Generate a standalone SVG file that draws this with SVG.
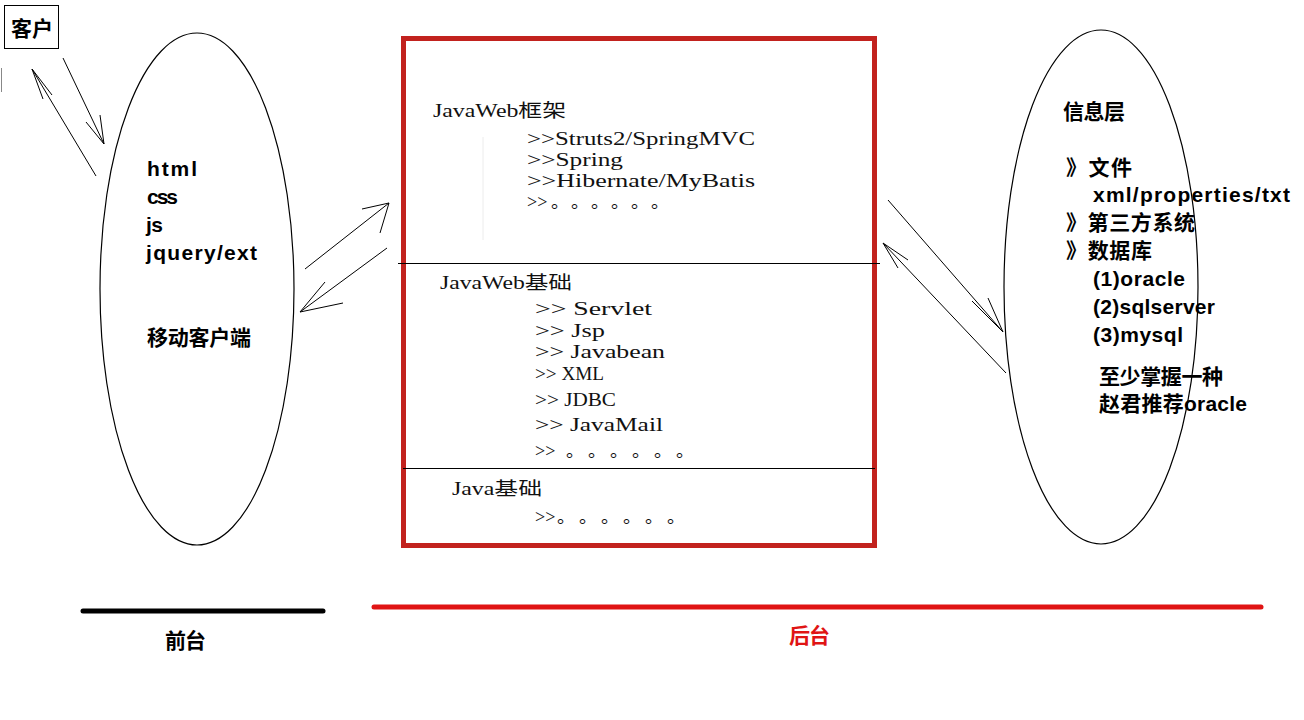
<svg xmlns="http://www.w3.org/2000/svg" width="1304" height="720" viewBox="0 0 1304 720">
<style>
.bg{fill:#ffffff}
.ln{stroke:#000;stroke-width:1;fill:none}
.ell{stroke:#000;stroke-width:1.2;fill:none}
.bs{font-family:"Liberation Sans","Noto Sans CJK SC",sans-serif;font-weight:bold;font-size:21px;fill:#000}
.sf{font-family:"Liberation Serif","Noto Sans CJK SC",serif;font-size:18px;fill:#111}
.hd{font-family:"Liberation Serif","Noto Sans CJK SC",serif;font-size:18px;fill:#111}
</style>
<rect class="bg" x="0" y="0" width="1304" height="720"/>

<g id="client">
<rect x="4.5" y="5.5" width="54" height="43" fill="#fff" stroke="#000" stroke-width="1"/>
<text class="bs" x="11" y="36" textLength="42">客户</text>
</g>

<g id="frontend">
<ellipse class="ell" cx="197" cy="289" rx="97" ry="256"/>
<text class="bs" x="147" y="176" textLength="50">html</text>
<text class="bs" x="147" y="204" textLength="31">css</text>
<text class="bs" x="146" y="232" textLength="17">js</text>
<text class="bs" x="146" y="260" textLength="111">jquery/ext</text>
<text class="bs" x="147" y="345" textLength="104">移动客户端</text>
</g>

<g id="backend">
<rect x="403.5" y="38.5" width="471" height="507" fill="none" stroke="#c2221e" stroke-width="5"/>
<line x1="398" y1="263.5" x2="880" y2="263.5" stroke="#000" stroke-width="1"/>
<line x1="403" y1="468.5" x2="875" y2="468.5" stroke="#000" stroke-width="1"/>
<line x1="483" y1="137" x2="483" y2="240" stroke="#ececec" stroke-width="1"/>
<g id="javaweb-framework">
<text class="hd" x="433" y="117" textLength="133" lengthAdjust="spacingAndGlyphs">JavaWeb框架</text>
<text class="sf" x="527" y="145" textLength="228" lengthAdjust="spacingAndGlyphs">&gt;&gt;Struts2/SpringMVC</text>
<text class="sf" x="527" y="166" textLength="96" lengthAdjust="spacingAndGlyphs">&gt;&gt;Spring</text>
<text class="sf" x="527" y="187" textLength="228" lengthAdjust="spacingAndGlyphs">&gt;&gt;Hibernate/MyBatis</text>
<text class="sf" x="527" y="208"><tspan>&gt;&gt;</tspan><tspan x="551 571 591 611 631 651">。。。。。。</tspan></text>
</g>
<g id="javaweb-basics">
<text class="hd" x="440" y="289" textLength="132" lengthAdjust="spacingAndGlyphs">JavaWeb基础</text>
<text class="sf" x="535" y="315" textLength="117" lengthAdjust="spacingAndGlyphs">&gt;&gt; Servlet</text>
<text class="sf" x="535" y="337" textLength="70" lengthAdjust="spacingAndGlyphs">&gt;&gt; Jsp</text>
<text class="sf" x="535" y="358" textLength="130" lengthAdjust="spacingAndGlyphs">&gt;&gt; Javabean</text>
<text class="sf" x="535" y="380" textLength="69" lengthAdjust="spacingAndGlyphs">&gt;&gt; XML</text>
<text class="sf" x="535" y="406" textLength="81" lengthAdjust="spacingAndGlyphs">&gt;&gt; JDBC</text>
<text class="sf" x="535" y="431" textLength="128" lengthAdjust="spacingAndGlyphs">&gt;&gt; JavaMail</text>
<text class="sf" x="535" y="457"><tspan>&gt;&gt;</tspan><tspan x="566 588 610 632 654 676">。。。。。。</tspan></text>
</g>
<g id="java-basics">
<text class="hd" x="452" y="495" textLength="90" lengthAdjust="spacingAndGlyphs">Java基础</text>
<text class="sf" x="535" y="523"><tspan>&gt;&gt;</tspan><tspan x="557 579 601 623 645 667">。。。。。。</tspan></text>
</g>
</g>

<g id="info-layer">
<ellipse class="ell" cx="1101" cy="287" rx="97" ry="257"/>
<text class="bs" x="1063" y="119" textLength="62">信息层</text>
<text class="bs" x="1066" y="175" textLength="66">》文件</text>
<text class="bs" x="1093" y="202" textLength="197">xml/properties/txt</text>
<text class="bs" x="1066" y="230" textLength="129">》第三方系统</text>
<text class="bs" x="1066" y="258" textLength="86">》数据库</text>
<text class="bs" x="1093" y="286" textLength="92">(1)oracle</text>
<text class="bs" x="1093" y="314" textLength="122">(2)sqlserver</text>
<text class="bs" x="1093" y="342" textLength="90">(3)mysql</text>
<text class="bs" x="1099" y="384" textLength="124">至少掌握一种</text>
<text class="bs" x="1099" y="411" textLength="148">赵君推荐oracle</text>
</g>

<g id="connectors">
<path class="ln" d="M63 58 L104 144 M100 115 L104 144 L86 122"/>
<path class="ln" d="M96 176 L32 69 M43 99 L32 69 L52 95"/>
<path class="ln" d="M305 269 L389 203 M362 209 L389 203 L380 233"/>
<path class="ln" d="M387 248 L300 312 M325 282 L300 312 L343 303"/>
<path class="ln" d="M888 200 L1003 332 M988 298 L1003 332 L972 301"/>
<path class="ln" d="M1006 373 L883 243 M908 260 L883 243 L898 268"/>
<line x1="1.5" y1="68" x2="1.5" y2="92" stroke="#888" stroke-width="1"/>
</g>

<g id="frontend-label">
<line x1="83" y1="611" x2="323" y2="611" stroke="#000" stroke-width="5" stroke-linecap="round"/>
<text class="bs" x="165" y="648" textLength="41">前台</text>
</g>
<g id="backend-label">
<line x1="374" y1="607" x2="1261" y2="607" stroke="#e01414" stroke-width="5" stroke-linecap="round"/>
<text class="bs" x="789" y="643" textLength="41" style="fill:#e01414">后台</text>
</g>
</svg>
